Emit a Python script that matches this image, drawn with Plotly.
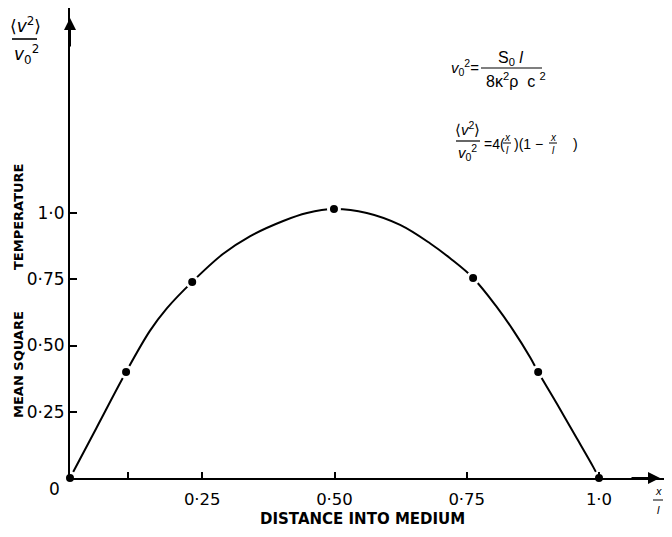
import plotly.graph_objects as go

# ---- data ----
# measured points (dots)
x_vals = [0.0, 0.106, 0.231, 0.499, 0.762, 0.885, 1.0]
y_vals = [0.0, 0.40, 0.74, 1.015, 0.755, 0.40, 0.0]
# positions
curve_x = [0.0, 0.05, 0.106, 0.151, 0.183, 0.231, 0.289, 0.340, 0.403, 0.448,
           0.499, 0.561, 0.624, 0.681, 0.718, 0.762, 0.807, 0.837, 0.870, 0.885,
           0.921, 0.958, 0.989, 1.0]
curve_y = [0.0, 0.189, 0.40, 0.555, 0.64, 0.74, 0.845, 0.912, 0.97, 1.0,
           1.015, 1.0, 0.955, 0.885, 0.83, 0.755, 0.645, 0.56, 0.455, 0.40,
           0.278, 0.15, 0.042, 0.0]

x_ticks = [0.11, 0.25, 0.50, 0.75, 1.0]
x_tick_labels = ["", "0·25", "0·50", "0·75", "1·0"]
y_ticks = [0.25, 0.50, 0.75, 1.0]
y_tick_labels = ["0·25", "0·50", "0·75", "1·0"]

x_title = "DISTANCE INTO MEDIUM"
y_title_words = ["MEAN SQUARE", "TEMPERATURE"]

# ---- layout geometry ----
# the page body adds an 8px margin, so the figure is placed 8px in
OFF = 8
W, H = 672 - 2 * OFF, 537 - 2 * OFF
ML, MR, MT = 62, 0, 0
PLOT_BOTTOM = 478 - OFF          # x-axis line, in figure pixels
MB = H - PLOT_BOTTOM
PW, PH = W - ML - MR, H - MT - MB
X_PER_UNIT = 529.0
Y_PER_UNIT = 265.0


def px(xp):  # reference-picture pixel -> paper
    return (xp - OFF - ML) / PW


def py(yp):
    return (PLOT_BOTTOM - (yp - OFF)) / PH


FONT = "DejaVu Sans"
FFONT = "Liberation Sans"
INK = "black"

fig = go.Figure()

fig.add_trace(go.Scatter(
    x=curve_x, y=curve_y, mode="lines",
    line=dict(color=INK, width=2, shape="spline", smoothing=1.0),
    hoverinfo="skip", showlegend=False, cliponaxis=False,
))
fig.add_trace(go.Scatter(
    x=x_vals, y=y_vals, mode="markers",
    marker=dict(color=INK, size=11, line=dict(color="white", width=3)),
    showlegend=False, cliponaxis=False,
))

annotations = []
shapes = []


def txt(t, xp, yp, size=15, xanchor="center", yanchor="middle", angle=0, family=FONT):
    annotations.append(dict(
        text=t, x=px(xp), y=py(yp), xref="paper", yref="paper",
        showarrow=False, xanchor=xanchor, yanchor=yanchor, textangle=angle,
        font=dict(family=family, size=size, color=INK),
    ))


def bar(x0, x1, yp, w=1.5):
    shapes.append(dict(type="line", xref="paper", yref="paper",
                       x0=px(x0), x1=px(x1), y0=py(yp), y1=py(yp),
                       line=dict(color=INK, width=w)))


# axis arrows
annotations.append(dict(text="", x=px(660), y=py(478), xref="paper", yref="paper",
                        ax=-30, ay=0, showarrow=True, arrowhead=2, arrowsize=1.2,
                        arrowwidth=2, arrowcolor=INK))
annotations.append(dict(text="", x=px(70), y=py(18), xref="paper", yref="paper",
                        ax=0, ay=30, showarrow=True, arrowhead=2, arrowsize=1.2,
                        arrowwidth=2, arrowcolor=INK))

# origin label
txt("0", 54, 489, size=17)

# axis titles
txt("<b>" + x_title + "</b>", 362, 519, size=15)
txt("<b>" + y_title_words[0] + "</b>", 18, 365, size=13, angle=-90)
txt("<b>" + y_title_words[1] + "</b>", 18, 217, size=13, angle=-90)

# top-left quantity label
txt("⟨<i>v</i><sup>2</sup>⟩", 25, 25, size=17)
bar(12, 37, 39, w=1.6)
txt("<i>v</i><sub>0</sub><sup>2</sup>", 26, 55, size=17)

# formula 1
txt("<i>v</i><sub>0</sub><sup>2</sup>=", 481, 68, size=15, xanchor="right", family=FFONT)
txt("S<sub>0</sub> <i>l</i>", 510, 58, size=16, family=FFONT)
bar(481, 542, 68, w=1.2)
txt("8κ<sup>2</sup>ρ  c <sup>2</sup>", 516, 80, size=16, family=FFONT)

# formula 2
txt("⟨<i>v</i><sup>2</sup>⟩", 467, 129, size=15, family=FFONT)
bar(456, 480, 141, w=1.2)
txt("<i>v</i><sub>0</sub><sup>2</sup>", 468, 153, size=15, family=FFONT)
txt("=4(", 482, 144, size=14, xanchor="left", family=FFONT)
txt("<i>x</i>", 507, 137, size=10, family=FFONT)
bar(503, 511, 143, w=1)
txt("<i>l</i>", 507, 150, size=10, family=FFONT)
txt(")(1 −", 512, 144, size=14, xanchor="left", family=FFONT)
txt("<i>x</i>", 553, 137, size=10, family=FFONT)
bar(549, 557, 143, w=1)
txt("<i>l</i>", 553, 150, size=10, family=FFONT)
txt(")", 571, 144, size=14, xanchor="left", family=FFONT)

# x/l at end of x-axis
txt("<i>x</i>", 658, 491, size=11, family=FFONT)
bar(653, 663, 500, w=1)
txt("<i>l</i>", 658, 510, size=11, family=FFONT)

fig.update_layout(
    width=W, height=H,
    margin=dict(l=ML, r=MR, t=MT, b=MB, pad=0, autoexpand=False),
    paper_bgcolor="white", plot_bgcolor="white",
    annotations=annotations, shapes=shapes,
    showlegend=False,
    xaxis=dict(
        range=[0, PW / X_PER_UNIT], showgrid=False, zeroline=False,
        showline=True, linecolor=INK, linewidth=2,
        tickmode="array", tickvals=x_ticks, ticktext=x_tick_labels,
        ticks="inside", ticklen=6, tickwidth=1.5, tickcolor=INK,
        tickfont=dict(family=FONT, size=16.5, color=INK),
        ticklabelstandoff=5, automargin=False,
        fixedrange=True,
    ),
    yaxis=dict(
        range=[0, PH / Y_PER_UNIT], showgrid=False, zeroline=False,
        showline=True, linecolor=INK, linewidth=2,
        tickmode="array", tickvals=y_ticks, ticktext=y_tick_labels,
        ticks="inside", ticklen=7, tickwidth=1.5, tickcolor=INK,
        tickfont=dict(family=FONT, size=17, color=INK),
        ticklabelstandoff=0, automargin=False,
        fixedrange=True,
    ),
)

fig.write_html("out.html")
